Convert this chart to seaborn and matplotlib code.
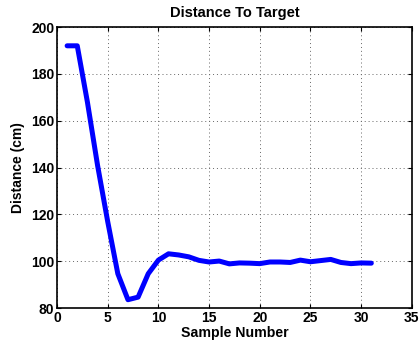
import pandas as pd
import seaborn as sns
import matplotlib.pyplot as plt

# Datos

muestra = list(range(1, 32))
distancia = [192, 192, 168, 141, 117, 94.7, 83.6, 84.7, 94.7, 100.5,
             103.2, 102.7, 101.9, 100.4, 99.7, 100.1, 98.9, 99.3, 99.2, 99.0,
             99.7, 99.7, 99.5, 100.5, 99.8, 100.3, 100.8, 99.5, 99.0, 99.3, 99.2]

df = pd.DataFrame({"muestra": muestra, "distancia": distancia})

sns.set_style("ticks", {"text.color": "black", "axes.labelcolor": "black",
                        "xtick.color": "black", "ytick.color": "black",
                        "axes.edgecolor": "black"})
plt.rcParams["font.family"] = ["Liberation Sans", "DejaVu Sans"]
plt.rcParams["font.weight"] = "bold"

fig = plt.figure(figsize=(4.19, 3.47), dpi=100)
ax = fig.add_axes([0.136, 0.112, 0.847, 0.81])

sns.lineplot(data=df, x="muestra", y="distancia", color="#0000ff", linewidth=3.6, ax=ax)

ax.set_xlim(0, 35)
ax.set_ylim(80, 200)
ax.set_xticks(range(0, 36, 5))
ax.set_yticks(range(80, 201, 20))
ax.grid(True, linestyle=(0, (1, 3)), color="#666666", linewidth=0.7)
ax.tick_params(direction="in", labelsize=10, length=3, top=True, right=True,
               labeltop=False, labelright=False, pad=2, colors="black")
for lab in ax.get_xticklabels() + ax.get_yticklabels():
    lab.set_fontweight("bold")
for s in ax.spines.values():
    s.set_linewidth(1.2)
    s.set_color("black")
    s.set_visible(True)

ax.set_xlabel("Sample Number", fontsize=10.2, fontweight="bold", labelpad=1, color="black")
ax.set_ylabel("Distance (cm)", fontsize=10, fontweight="bold", labelpad=4, color="black")
ax.set_title("Distance To Target", fontsize=10.5, fontweight="bold", pad=7, color="black")

fig.savefig("out.png", dpi=100)
